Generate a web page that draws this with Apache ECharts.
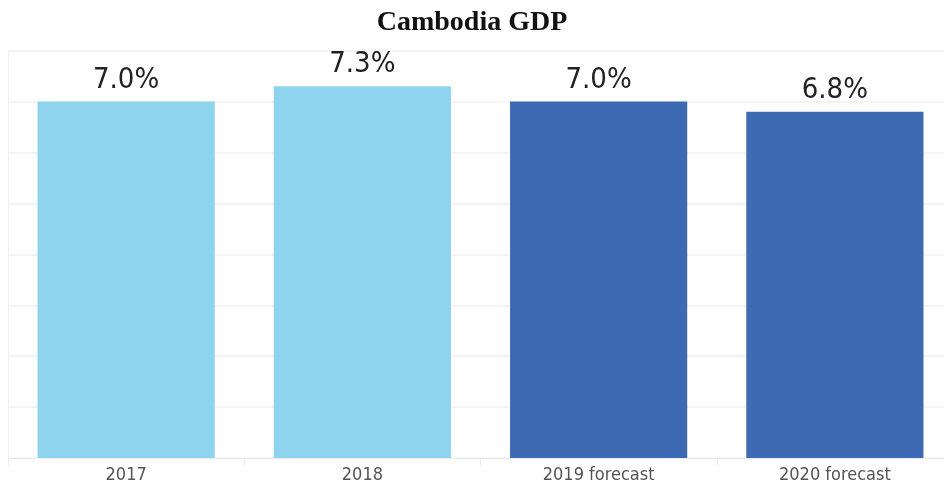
<!DOCTYPE html>
<html>
<head>
<meta charset="utf-8">
<script src="https://cdn.jsdelivr.net/npm/echarts@6/dist/echarts.min.js"></script>
<style>
  html, body { margin: 0; padding: 0; background: #fff; }
  #chart { width: 944px; height: 490px; }
</style>
</head>
<body>
<div id="chart"></div>
<script>
// GDP growth, percent
const categories = ['2017', '2018', '2019 forecast', '2020 forecast'];
const growth = [7.0, 7.3, 7.0, 6.8];
const actualColor = '#8fd4ee';
const forecastColor = '#3e6ab3';
const barColors = [actualColor, actualColor, forecastColor, forecastColor];

const chart = echarts.init(document.getElementById('chart'), null, { renderer: 'canvas' });

chart.setOption({
  animation: false,
  backgroundColor: '#ffffff',
  title: {
    text: 'Cambodia GDP',
    left: 'center',
    top: 4,
    textStyle: {
      fontFamily: 'Liberation Serif',
      fontWeight: 'bold',
      fontSize: 28,
      color: '#111'
    }
  },
  // the plot runs slightly past the right edge of the canvas
  grid: { left: 8, width: 945, top: 50.7, bottom: 32, outerBoundsMode: 'none', containLabel: false },
  xAxis: {
    type: 'category',
    data: categories,
    axisLine: { show: true, lineStyle: { color: '#ececec', width: 1 } },
    axisTick: { show: true, length: 8, lineStyle: { color: '#eeeeee' } },
    axisLabel: {
      margin: 8,
      fontFamily: '"DejaVu Sans Condensed", "Liberation Sans", sans-serif',
      fontSize: 18,
      color: '#555'
    }
  },
  yAxis: {
    type: 'value',
    min: 0,
    max: 8,
    interval: 1,
    axisLabel: { show: false },
    axisTick: { show: false },
    axisLine: { show: true, lineStyle: { color: '#f0f0f0' } },
    splitLine: { show: true, lineStyle: { color: '#f0f0f0', width: 1.5 } }
  },
  series: [{
    type: 'bar',
    barWidth: '75%',
    data: growth.map((v, i) => ({ value: v, itemStyle: { color: barColors[i] } })),
    label: {
      show: true,
      position: 'top',
      distance: 7,
      formatter: p => p.value.toFixed(1) + '%',
      fontFamily: '"DejaVu Sans Condensed", "Liberation Sans", sans-serif',
      fontSize: 29,
      color: '#222'
    }
  }]
});
</script>
</body>
</html>
